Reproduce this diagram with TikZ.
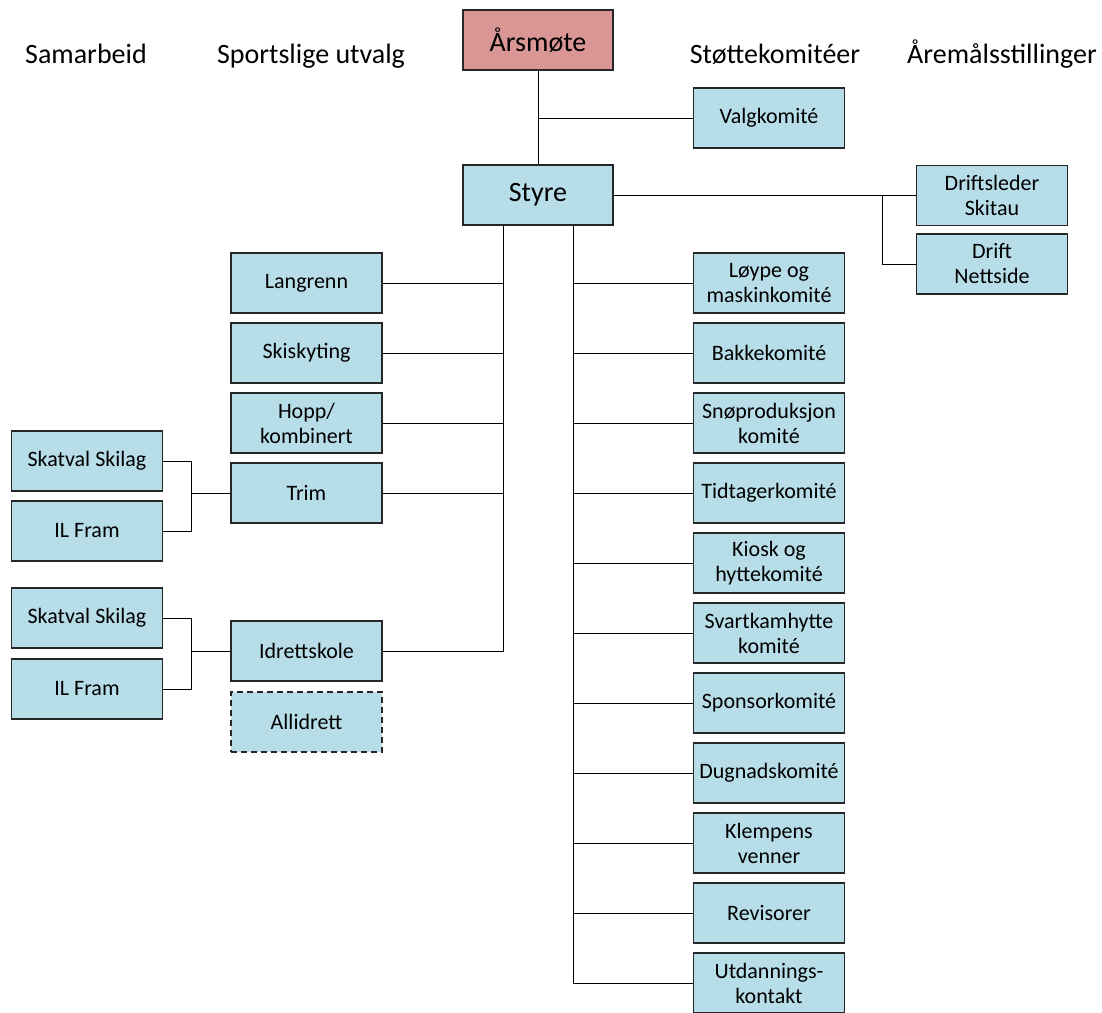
\documentclass[tikz,border=0pt]{standalone}
\usepackage{fontspec}
\setmainfont{Carlito}
\definecolor{boxblue}{HTML}{B7DDE8}
\definecolor{boxred}{HTML}{D99694}
\definecolor{edge}{HTML}{262626}
\begin{document}
\begin{tikzpicture}[x=1pt,y=-1pt,
  box/.style={draw=edge,line width=1.1pt,fill=boxblue,minimum width=151pt,minimum height=60pt,
    inner sep=2pt,align=center,font=\fontsize{22}{25}\selectfont},
  bigbox/.style={box,font=\fontsize{28}{32}\selectfont},
  head/.style={anchor=base,inner sep=0pt,font=\fontsize{28}{32}\selectfont},
  conn/.style={draw=black,line width=1pt}]
\useasboundingbox (0,0) rectangle (1102,1012);
\begin{scope}
\clip (0,0) rectangle (1102,1012);
% headings
\node[head] (h1) at (86,63) {Samarbeid};
\node[head] (h2) at (311,63) {Sportslige utvalg};
\node[head] (h3) at (775,63) {Støttekomitéer};
\node[head] (h4) at (1002,63) {Åremålsstillinger};
% top
\node[bigbox,fill=boxred,minimum width=150pt] (ars) at (538,40) {Årsmøte};
\node[box] (valg) at (769,118) {Valgkomité};
\node[bigbox,minimum width=150pt] (styre) at (538,195) {Styre};
\node[box] (drl) at (992,195.5) {Driftsleder\\Skitau};
\node[box] (drn) at (992,264) {Drift\\Nettside};
% sport column
\node[box] (lang) at (306.5,283) {Langrenn};
\node[box] (skis) at (306.5,353) {Skiskyting};
\node[box] (hopp) at (306.5,423) {Hopp/\\kombinert};
\node[box] (trim) at (306.5,493) {Trim};
\node[box] (idr) at (306.5,651) {Idrettskole};
\node[box,dash pattern=on 6pt off 4pt] (alli) at (306.5,722) {Allidrett};
% samarbeid
\node[box] (sk1) at (87,461) {Skatval Skilag};
\node[box] (il1) at (87,531) {IL Fram};
\node[box] (sk2) at (87,618) {Skatval Skilag};
\node[box] (il2) at (87,689) {IL Fram};
% support column
\node[box] (c1) at (769,283) {Løype og\\maskinkomité};
\node[box] (c2) at (769,353) {Bakkekomité};
\node[box] (c3) at (769,423) {Snøproduksjon\\komité};
\node[box] (c4) at (769,493) {Tidtagerkomité};
\node[box] (c5) at (769,563) {Kiosk og\\hyttekomité};
\node[box] (c6) at (769,633) {Svartkamhytte\\komité};
\node[box] (c7) at (769,703) {Sponsorkomité};
\node[box] (c8) at (769,773) {Dugnadskomité};
\node[box] (c9) at (769,843) {Klempens\\venner};
\node[box] (c10) at (769,913) {Revisorer};
\node[box] (c11) at (769,983) {Utdannings-\\kontakt};
% coordinates
\coordinate (sl) at (503,0);
\coordinate (sr) at (573,0);
\coordinate (dx) at (882,0);
% connectors
\draw[conn] (ars.south) -- (styre.north);
\draw[conn] (ars.south |- valg.west) -- (valg.west);
\draw[conn] (styre.east) -- (styre.east -| drl.west);
\draw[conn] (dx |- styre.east) |- (drn.west);
\draw[conn] (styre.south -| sl) |- (idr.east);
\foreach \n in {lang,skis,hopp,trim} \draw[conn] (\n.east) -- (sl |- \n.east);
\draw[conn] (styre.south -| sr) |- (c11.west);
\foreach \n in {c1,c2,c3,c4,c5,c6,c7,c8,c9,c10} \draw[conn] (sr |- \n.west) -- (\n.west);
\coordinate (b1) at (191,0);
\draw[conn] (sk1.east) -| (b1 |- il1.east) -- (il1.east);
\draw[conn] (b1 |- trim.west) -- (trim.west);
\draw[conn] (sk2.east) -| (b1 |- il2.east) -- (il2.east);
\draw[conn] (b1 |- idr.west) -- (idr.west);
\end{scope}
\end{tikzpicture}
\end{document}
